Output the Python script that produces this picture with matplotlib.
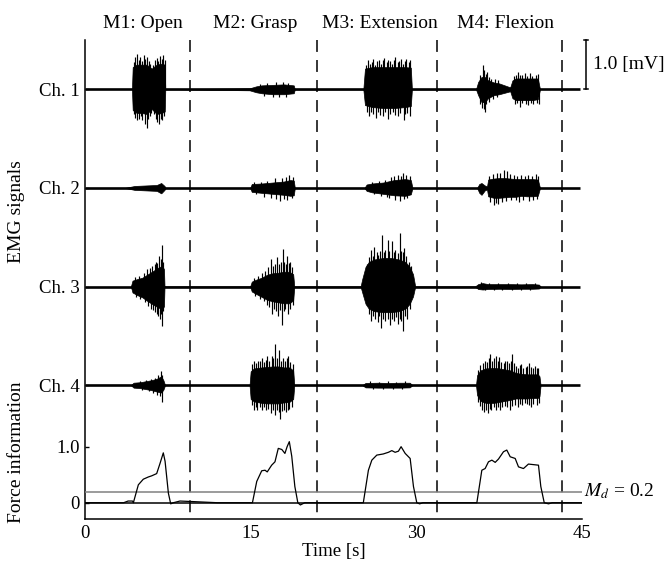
import matplotlib
matplotlib.use("Agg")
import matplotlib.pyplot as plt

plt.rcParams['font.family'] = ['Liberation Serif', 'DejaVu Serif']
plt.rcParams['mathtext.fontset'] = 'stix'
plt.rcParams['font.size'] = 14

# ---------------- data ----------------
time_ticks = [0, 15, 30, 45]
motion_labels = ['M1: Open', 'M2: Grasp', 'M3: Extension', 'M4: Flexion']
motion_label_t = [5.25, 15.4, 26.7, 38.1]
boundaries_t = [9.5, 21.0, 31.85, 43.2]
channel_labels = ['Ch. 1', 'Ch. 2', 'Ch. 3', 'Ch. 4']
record_t = [0, 44.8]
scale_mv = 1.0
Md = 0.2

# EMG dense-core envelopes [mV] (upper / lower amplitude at knot times)
ch1_t = [4.25, 4.32, 4.68, 5.13, 5.58, 6.04, 6.49, 6.94, 7.22, 7.27,
         14.9, 15.5, 16.0, 17.0, 18.0, 18.9, 19.0,
         25.2, 25.35, 26.0, 27.0, 28.0, 29.0, 29.5, 29.6,
         35.4, 35.6, 35.9, 36.2, 36.5, 37.0, 37.5, 38.0, 38.5, 38.7, 39.0, 39.5, 40.0, 40.5, 41.0, 41.2]
ch1_up = [0, 0.45, 0.5, 0.5, 0.5, 0.42, 0.5, 0.52, 0.5, 0,
          0.02, 0.06, 0.08, 0.09, 0.1, 0.08, 0,
          0, 0.42, 0.45, 0.45, 0.45, 0.45, 0.44, 0,
          0, 0.15, 0.25, 0.25, 0.18, 0.14, 0.12, 0.08, 0.04, 0.18, 0.22, 0.22, 0.22, 0.22, 0.22, 0]
ch1_lo = [0, 0.42, 0.48, 0.48, 0.5, 0.4, 0.5, 0.48, 0.45, 0,
          0.02, 0.06, 0.08, 0.1, 0.1, 0.08, 0,
          0, 0.32, 0.36, 0.38, 0.38, 0.36, 0.34, 0,
          0, 0.12, 0.26, 0.26, 0.18, 0.12, 0.1, 0.07, 0.04, 0.18, 0.22, 0.22, 0.22, 0.22, 0.2, 0]
# individual spikes above / below the baseline [mV]
ch1_up_spk_t = [4.4, 4.55, 4.68, 4.85, 5.0, 5.15, 5.3, 5.45, 5.6, 5.75, 5.9, 6.2, 6.35, 6.5,
                6.65, 6.8, 6.95, 7.1, 7.2,
                15.8, 16.5, 17.3, 17.9, 18.4,
                25.4, 25.6, 25.8, 26.0, 26.1, 26.3, 26.45, 26.6, 26.8, 26.95, 27.1, 27.3, 27.45,
                27.6, 27.8, 27.95, 28.1, 28.3, 28.45, 28.6, 28.8, 28.95, 29.1, 29.3, 29.45,
                35.8, 36.05, 36.15, 36.3, 36.4, 36.6, 36.8, 37.1, 37.4,
                38.8, 39.0, 39.2, 39.4, 39.6, 39.8, 40.0, 40.3, 40.5, 40.8, 41.0]
ch1_up_spk_v = [0.55, 0.66, 0.72, 0.6, 0.65, 0.58, 0.7, 0.62, 0.66, 0.58, 0.52, 0.5, 0.6, 0.64,
                0.58, 0.68, 0.62, 0.7, 0.6,
                0.1, 0.12, 0.14, 0.14, 0.13,
                0.5, 0.6, 0.52, 0.56, 0.62, 0.5, 0.58, 0.6, 0.52, 0.6, 0.64, 0.55, 0.6,
                0.58, 0.52, 0.6, 0.66, 0.55, 0.58, 0.62, 0.52, 0.58, 0.62, 0.55, 0.6,
                0.3, 0.49, 0.4, 0.32, 0.35, 0.24, 0.2, 0.2, 0.18,
                0.26, 0.3, 0.36, 0.3, 0.3, 0.33, 0.28, 0.34, 0.28, 0.3, 0.32]
ch1_dn_spk_t = [4.4, 4.55, 4.75, 4.9, 5.05, 5.2, 5.4, 5.58, 5.7, 5.85, 6.0, 6.25, 6.4, 6.55,
                6.7, 6.85, 7.0, 7.15,
                16.2, 17.0, 17.6, 18.2,
                25.5, 25.7, 25.9, 26.1, 26.35, 26.5, 26.7, 26.95, 27.15, 27.45, 27.65, 27.9,
                28.1, 28.35, 28.55, 28.85, 29.0, 29.2, 29.4,
                35.8, 35.95, 36.1, 36.2, 36.35, 36.6, 36.9, 37.3,
                38.9, 39.1, 39.4, 39.6, 39.9, 40.1, 40.35, 40.6, 40.9, 41.1]
ch1_dn_spk_v = [0.5, 0.58, 0.62, 0.6, 0.55, 0.62, 0.7, 0.79, 0.6, 0.55, 0.48, 0.5, 0.6, 0.66,
                0.7, 0.6, 0.62, 0.55,
                0.13, 0.15, 0.16, 0.15,
                0.45, 0.55, 0.45, 0.5, 0.58, 0.45, 0.52, 0.55, 0.45, 0.6, 0.5, 0.45,
                0.52, 0.55, 0.48, 0.62, 0.5, 0.48, 0.55,
                0.3, 0.38, 0.4, 0.45, 0.3, 0.25, 0.2, 0.15,
                0.3, 0.28, 0.35, 0.28, 0.3, 0.32, 0.28, 0.3, 0.27, 0.3]

ch2_t = [3.6, 4.5, 5.5, 6.5, 6.9, 7.2, 7.3,
         14.95, 15.1, 16.0, 17.0, 18.0, 18.6, 18.9, 19.0,
         25.3, 25.5, 26.0, 27.0, 28.0, 29.0, 29.5, 29.65,
         35.5, 35.7, 35.9, 36.2, 36.4, 36.5, 37.0, 37.5, 38.0, 38.5, 39.0, 39.5, 40.0, 40.5, 41.0, 41.2]
ch2_up = [0, 0.04, 0.05, 0.06, 0.1, 0.04, 0,
          0, 0.08, 0.09, 0.11, 0.13, 0.16, 0.15, 0,
          0, 0.07, 0.09, 0.11, 0.16, 0.18, 0.16, 0,
          0, 0.08, 0.1, 0.05, 0.03, 0.17, 0.19, 0.2, 0.2, 0.19, 0.18, 0.18, 0.18, 0.18, 0.17, 0]
ch2_lo = [0, 0.04, 0.05, 0.06, 0.11, 0.04, 0,
          0, 0.08, 0.1, 0.12, 0.14, 0.16, 0.15, 0,
          0, 0.06, 0.09, 0.12, 0.15, 0.16, 0.13, 0,
          0, 0.1, 0.14, 0.05, 0.03, 0.17, 0.2, 0.2, 0.19, 0.18, 0.18, 0.16, 0.17, 0.17, 0.16, 0]
ch2_up_spk_t = [15.3, 15.9, 16.5, 17.2, 17.8, 18.2, 18.5, 18.8,
                26.0, 26.6, 27.2, 27.7, 28.0, 28.3, 28.6, 28.8, 29.1, 29.4,
                36.6, 36.9, 37.3, 37.6, 37.9, 38.2, 38.5, 38.8, 39.1, 39.5, 39.8, 40.1, 40.5,
                40.8, 41.0]
ch2_up_spk_v = [0.12, 0.13, 0.15, 0.2, 0.2, 0.22, 0.27, 0.22,
                0.12, 0.15, 0.17, 0.22, 0.24, 0.26, 0.25, 0.3, 0.26, 0.24,
                0.25, 0.28, 0.3, 0.3, 0.37, 0.34, 0.28, 0.26, 0.25, 0.27, 0.25, 0.26, 0.25,
                0.28, 0.24]
ch2_dn_spk_t = [15.5, 16.2, 16.8, 17.3, 17.7, 18.0, 18.3, 18.7,
                26.2, 26.8, 27.3, 27.5, 28.1, 28.5, 28.9, 29.2,
                36.7, 37.0, 37.2, 37.4, 37.8, 38.1, 38.6, 39.0, 39.3, 39.7, 40.2, 40.6, 40.9]
ch2_dn_spk_v = [0.13, 0.18, 0.2, 0.22, 0.27, 0.22, 0.25, 0.2,
                0.13, 0.17, 0.18, 0.2, 0.25, 0.27, 0.22, 0.2,
                0.28, 0.34, 0.3, 0.32, 0.28, 0.26, 0.25, 0.24, 0.28, 0.24, 0.26, 0.24, 0.22]

ch3_t = [4.15, 4.3, 4.7, 5.2, 5.7, 6.2, 6.6, 7.0, 7.15, 7.2,
         14.95, 15.1, 15.5, 16.0, 16.5, 17.0, 17.5, 18.0, 18.5, 18.85, 18.95,
         24.95, 25.1, 25.4, 25.7, 26.2, 27.0, 27.7, 28.4, 29.0, 29.4, 29.7, 29.9,
         35.3, 35.6, 36.0, 36.5, 37.5, 38.5, 39.5, 40.5, 41.1, 41.25]
ch3_up = [0, 0.12, 0.15, 0.18, 0.25, 0.32, 0.38, 0.42, 0.35, 0,
          0, 0.1, 0.14, 0.18, 0.24, 0.27, 0.28, 0.3, 0.3, 0.25, 0,
          0, 0.15, 0.4, 0.5, 0.55, 0.58, 0.58, 0.55, 0.5, 0.4, 0.25, 0,
          0, 0.05, 0.07, 0.05, 0.05, 0.05, 0.045, 0.05, 0.04, 0]
ch3_lo = [0, 0.12, 0.17, 0.22, 0.3, 0.37, 0.42, 0.46, 0.4, 0,
          0, 0.1, 0.15, 0.21, 0.27, 0.3, 0.32, 0.34, 0.34, 0.28, 0,
          0, 0.12, 0.35, 0.45, 0.5, 0.52, 0.52, 0.5, 0.45, 0.35, 0.2, 0,
          0, 0.05, 0.06, 0.05, 0.045, 0.05, 0.045, 0.045, 0.04, 0]
ch3_up_spk_t = [4.5, 4.9, 5.3, 5.6, 5.9, 6.1, 6.3, 6.4, 6.55, 6.7, 6.85, 7.0, 7.1,
                15.3, 15.7, 16.0, 16.3, 16.6, 16.8, 17.0, 17.2, 17.4, 17.6, 17.75, 17.9, 18.05,
                18.2, 18.3, 18.45, 18.6, 18.75,
                25.5, 25.7, 25.9, 26.05, 26.2, 26.4, 26.55, 26.7, 26.9, 27.05, 27.2, 27.4,
                27.55, 27.8, 27.95, 28.1, 28.3, 28.5, 28.65, 28.8, 28.9, 29.1, 29.3, 29.5,
                35.9, 36.6, 37.4, 38.3, 39.1, 39.9, 40.7]
ch3_up_spk_v = [0.2, 0.22, 0.28, 0.35, 0.38, 0.42, 0.45, 0.5, 0.48, 0.62, 0.55, 0.85, 0.5,
                0.18, 0.22, 0.28, 0.32, 0.4, 0.55, 0.42, 0.45, 0.6, 0.45, 0.5, 0.77, 0.5,
                0.45, 0.62, 0.48, 0.5, 0.4,
                0.45, 0.6, 0.75, 0.62, 0.8, 0.7, 0.65, 0.72, 1.05, 0.7, 0.75, 0.95,
                0.72, 0.92, 0.7, 0.75, 0.68, 1.09, 0.72, 0.7, 0.78, 0.62, 0.5, 0.42,
                0.1, 0.08, 0.08, 0.07, 0.08, 0.07, 0.08]
ch3_dn_spk_t = [4.6, 5.0, 5.4, 5.7, 6.0, 6.2, 6.35, 6.5, 6.65, 6.8, 6.9, 7.0, 7.1,
                15.4, 15.8, 16.2, 16.5, 16.7, 16.9, 17.1, 17.3, 17.5, 17.7, 17.85, 18.0, 18.15,
                18.4, 18.6, 18.8,
                25.5, 25.7, 25.9, 26.1, 26.3, 26.5, 26.65, 26.8, 27.0, 27.2, 27.4, 27.6, 27.8,
                28.0, 28.15, 28.3, 28.5, 28.65, 28.8, 29.0, 29.2, 29.4,
                36.2, 37.0, 37.8, 38.7, 39.5, 40.3]
ch3_dn_spk_v = [0.22, 0.26, 0.32, 0.4, 0.45, 0.48, 0.52, 0.55, 0.6, 0.65, 0.55, 0.8, 0.5,
                0.2, 0.25, 0.3, 0.38, 0.42, 0.55, 0.45, 0.5, 0.6, 0.48, 0.77, 0.5, 0.45,
                0.55, 0.45, 0.38,
                0.38, 0.55, 0.7, 0.6, 0.65, 0.72, 0.6, 0.85, 0.65, 0.7, 0.65, 0.78, 0.65,
                0.7, 0.62, 0.75, 0.65, 0.7, 0.91, 0.6, 0.65, 0.45,
                0.08, 0.07, 0.08, 0.07, 0.08, 0.07]

ch4_t = [4.15, 4.4, 5.0, 5.5, 6.0, 6.5, 6.9, 7.1, 7.25,
         14.9, 15.0, 15.3, 16.0, 16.5, 17.0, 17.5, 18.0, 18.5, 18.85, 18.95,
         25.1, 25.4, 26.5, 27.5, 28.5, 29.4, 29.65,
         35.4, 35.5, 35.8, 36.3, 37.0, 37.5, 38.0, 38.5, 39.0, 39.5, 40.0, 40.5, 41.0, 41.15, 41.25]
ch4_up = [0, 0.05, 0.06, 0.08, 0.1, 0.13, 0.18, 0.1, 0,
          0, 0.28, 0.34, 0.36, 0.37, 0.38, 0.38, 0.36, 0.36, 0.3, 0,
          0, 0.045, 0.05, 0.045, 0.05, 0.05, 0,
          0, 0.2, 0.3, 0.34, 0.35, 0.34, 0.32, 0.3, 0.25, 0.23, 0.22, 0.22, 0.22, 0.18, 0]
ch4_lo = [0, 0.05, 0.06, 0.08, 0.1, 0.13, 0.15, 0.09, 0,
          0, 0.28, 0.33, 0.36, 0.37, 0.37, 0.37, 0.35, 0.34, 0.28, 0,
          0, 0.045, 0.05, 0.05, 0.05, 0.045, 0,
          0, 0.2, 0.32, 0.36, 0.36, 0.34, 0.32, 0.3, 0.27, 0.27, 0.27, 0.26, 0.26, 0.22, 0]
ch4_up_spk_t = [5.0, 5.5, 6.0, 6.3, 6.6, 6.85, 7.0,
                15.1, 15.3, 15.5, 15.65, 15.8, 16.0, 16.2, 16.35, 16.5, 16.7, 16.9, 17.05, 17.2,
                17.35, 17.6, 17.75, 17.9, 18.1, 18.25, 18.4, 18.6, 18.8,
                25.8, 26.6, 27.4, 28.2, 29.0,
                35.6, 35.8, 36.0, 36.2, 36.4, 36.55, 36.7, 36.85, 37.0, 37.2, 37.35, 37.5, 37.7,
                37.9, 38.05, 38.2, 38.4, 38.55, 38.7, 38.85, 39.0, 39.2, 39.35, 39.5, 39.7, 39.9,
                40.05, 40.2, 40.4, 40.55, 40.7, 40.9, 41.05]
ch4_up_spk_v = [0.08, 0.1, 0.13, 0.14, 0.2, 0.28, 0.2,
                0.42, 0.5, 0.45, 0.5, 0.5, 0.55, 0.48, 0.52, 0.6, 0.5, 0.6, 0.55, 0.83,
                0.55, 0.72, 0.5, 0.55, 0.5, 0.55, 0.6, 0.48, 0.42,
                0.08, 0.07, 0.08, 0.07, 0.08,
                0.3, 0.4, 0.45, 0.5, 0.48, 0.55, 0.64, 0.5, 0.55, 0.6, 0.5, 0.58, 0.48,
                0.45, 0.5, 0.5, 0.45, 0.5, 0.64, 0.45, 0.38, 0.35, 0.4, 0.42, 0.35, 0.36,
                0.38, 0.44, 0.36, 0.35, 0.38, 0.34, 0.35]
ch4_dn_spk_t = [5.2, 5.8, 6.2, 6.5, 6.8, 7.0,
                15.1, 15.3, 15.45, 15.6, 15.8, 16.0, 16.2, 16.4, 16.6, 16.8, 17.0, 17.2, 17.4,
                17.55, 17.7, 17.85, 18.0, 18.2, 18.35, 18.5, 18.7,
                26.1, 27.0, 27.9, 28.7,
                35.6, 35.8, 35.95, 36.1, 36.3, 36.5, 36.65, 36.8, 37.0, 37.2, 37.4, 37.6, 37.8,
                38.0, 38.2, 38.5, 38.7, 38.9, 39.2, 39.4, 39.6, 39.8, 40.0, 40.2, 40.4, 40.6,
                40.9, 41.1]
ch4_dn_spk_v = [0.09, 0.12, 0.15, 0.2, 0.22, 0.34,
                0.4, 0.5, 0.45, 0.5, 0.45, 0.5, 0.45, 0.5, 0.48, 0.57, 0.5, 0.61, 0.5,
                0.55, 0.68, 0.52, 0.5, 0.55, 0.5, 0.48, 0.45,
                0.08, 0.07, 0.08, 0.07,
                0.35, 0.42, 0.5, 0.55, 0.5, 0.57, 0.48, 0.5, 0.45, 0.5, 0.45, 0.5, 0.45,
                0.42, 0.45, 0.5, 0.42, 0.4, 0.45, 0.38, 0.4, 0.36, 0.38, 0.4, 0.45, 0.38,
                0.4, 0.36]

# Force information
force_t = [0, 3.5, 3.9, 4.3, 4.38, 4.83, 5.28, 5.74, 6.04, 6.49, 6.79, 7.09, 7.25, 7.55, 7.76,
           8.0, 8.6, 9.8, 12.0, 15.16, 15.55, 16.0, 16.3, 16.5, 16.9, 17.2, 17.5, 17.82, 18.1,
           18.3, 18.5, 18.72, 19.0, 19.27, 19.5, 19.9, 22.0, 25.2, 25.66, 25.97, 26.42, 27.0,
           27.47, 27.78, 28.08, 28.38, 28.62, 28.99, 29.44, 29.74, 30.04, 30.3, 30.6, 33.0,
           35.48, 35.93, 36.23, 36.53, 36.84, 37.14, 37.44, 37.89, 38.19, 38.5, 38.95, 39.25,
           39.7, 40.15, 40.6, 41.06, 41.27, 41.58, 41.97, 42.3, 45]
force_v = [0, 0, 0.03, 0.03, 0.0, 0.32, 0.42, 0.46, 0.48, 0.52, 0.7, 0.89, 0.74, 0.17, -0.02,
           0.0, 0.03, 0.02, 0.0, 0.0, 0.38, 0.57, 0.58, 0.55, 0.67, 0.73, 0.97, 0.95, 0.88,
           1.0, 1.09, 0.83, 0.29, 0.0, -0.04, 0.0, 0.0, 0.0, 0.58, 0.76, 0.85, 0.87,
           0.9, 0.93, 0.9, 0.92, 1.0, 0.88, 0.79, 0.29, 0.0, -0.02, 0.0, 0.0,
           0.0, 0.58, 0.61, 0.73, 0.76, 0.72, 0.78, 0.91, 0.94, 0.82, 0.79, 0.64,
           0.61, 0.69, 0.68, 0.67, 0.29, 0.0, -0.02, 0.0, 0]
force_ticks = [0, 1.0]
force_ticklabels = ['0', '1.0']

channels = [
    (ch1_t, ch1_up, ch1_lo, ch1_up_spk_t, ch1_up_spk_v, ch1_dn_spk_t, ch1_dn_spk_v),
    (ch2_t, ch2_up, ch2_lo, ch2_up_spk_t, ch2_up_spk_v, ch2_dn_spk_t, ch2_dn_spk_v),
    (ch3_t, ch3_up, ch3_lo, ch3_up_spk_t, ch3_up_spk_v, ch3_dn_spk_t, ch3_dn_spk_v),
    (ch4_t, ch4_up, ch4_lo, ch4_up_spk_t, ch4_up_spk_v, ch4_dn_spk_t, ch4_dn_spk_v),
]

# ---------------- layout ----------------
W, H = 665, 561
fig = plt.figure(figsize=(W / 100, H / 100), dpi=100)


def rect(x0, y0, x1, y1):
    return [x0 / W, 1 - y1 / H, (x1 - x0) / W, (y1 - y0) / H]


ax = fig.add_axes(rect(85, 40, 582, 519.3))
axf = fig.add_axes(rect(85, 430, 582, 519.3))

spacing = 2.0
ylim_emg = (-8.72, 1.0)
ax.set_xlim(0, 45)
ax.set_ylim(*ylim_emg)
for s in ['top', 'right']:
    ax.spines[s].set_visible(False)
for s in ['left', 'bottom']:
    ax.spines[s].set_linewidth(1.1)

offsets = [-spacing * i for i in range(len(channels))]
for off, (t, up, lo, ust, usv, dst, dsv) in zip(offsets, channels):
    ax.plot(record_t, [off, off], color='k', lw=1.9, solid_capstyle='butt', zorder=2)
    ax.fill_between(t, [off + u for u in up], [off - l for l in lo],
                    color='k', lw=0.5, zorder=3)
    ax.vlines(ust, off, [off + v for v in usv], color='k', lw=0.85, zorder=3)
    ax.vlines(dst, [off - v for v in dsv], off, color='k', lw=0.85, zorder=3)

ax.set_yticks(offsets, channel_labels)
ax.tick_params(axis='y', direction='in', length=3, width=1.0, labelsize=13.5, pad=3.6)
ax.set_xticks(time_ticks, [str(v) for v in time_ticks])
ax.tick_params(axis='x', length=0, labelsize=13.5, pad=4)
ax.set_xlabel('Time [s]', fontsize=13.5, labelpad=1)

# motion boundaries (dashed)
for b in boundaries_t:
    ax.plot([b, b], [ylim_emg[1], ylim_emg[0]], color='k', lw=1.1,
            linestyle=(0, (7.8, 5.3)), clip_on=False, zorder=1)

# motion titles
for lab, tl in zip(motion_labels, motion_label_t):
    ax.text(tl, 1.33, lab, ha='center', va='center', fontsize=14)

# scale bar
sx = 45.35
ax.plot([sx, sx], [0, scale_mv], color='k', lw=1.1, clip_on=False)
ax.plot([sx - 0.18, sx + 0.18], [0, 0], color='k', lw=1.1, clip_on=False)
ax.plot([sx - 0.18, sx + 0.18], [scale_mv, scale_mv], color='k', lw=1.1, clip_on=False)
ax.text(46.0, scale_mv / 2, '%.1f [mV]' % scale_mv, ha='left', va='center', fontsize=14)

# force axes
axf.set_xlim(0, 45)
axf.set_ylim(-0.296, 1.298)
axf.patch.set_alpha(0)
for s in axf.spines.values():
    s.set_visible(False)
axf.set_xticks([])
axf.set_yticks(force_ticks, force_ticklabels)
axf.tick_params(axis='y', direction='in', length=3, width=1.0, labelsize=13.5, pad=3.6)
axf.axhline(0, color='k', lw=1.1)
axf.axhline(Md, color='#808080', lw=1.1)
axf.plot(force_t, force_v, color='k', lw=0.9)
axf.text(45.2, Md, r'$M_d$ = %.1f' % Md, ha='left', va='center', fontsize=14)

fig.text(17 / W, 1 - 212 / H, 'EMG signals', rotation=90, ha='center', va='center', fontsize=14)
fig.text(17 / W, 1 - 452 / H, 'Force information', rotation=90, ha='center', va='center',
         fontsize=14)

fig.savefig('out.png', dpi=100)
